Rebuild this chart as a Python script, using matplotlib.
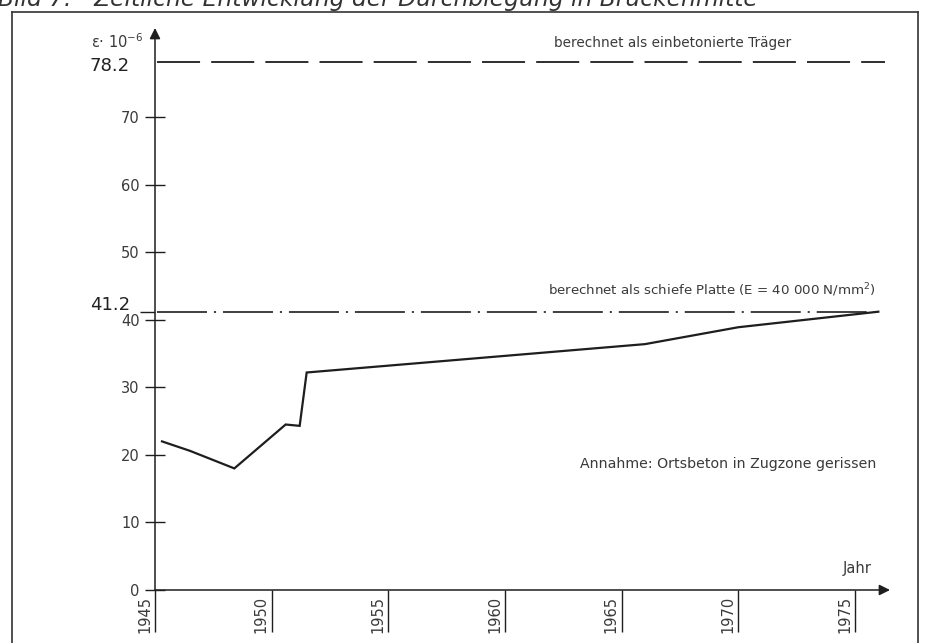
import matplotlib
matplotlib.use("Agg")
import matplotlib.pyplot as plt
from matplotlib.lines import Line2D

plt.rcParams['lines.scale_dashes'] = False
plt.rcParams['font.family'] = ['DejaVu Sans']

# ---- data ----
years = [1945.3, 1946.5, 1948.4, 1950.6, 1951.2, 1951.5, 1966.0, 1970.0, 1976.0]
strain = [22.0, 20.6, 18.0, 24.5, 24.3, 32.2, 36.4, 38.9, 41.2]
ref_girder = 78.2      # berechnet als einbetonierte Träger
ref_plate = 41.2       # berechnet als schiefe Platte
ref_span = [1945.1, 1976.3]
ytick_vals = [0, 10, 20, 30, 40, 50, 60, 70]
xtick_vals = [1945, 1950, 1955, 1960, 1965, 1970, 1975]

ink = '#1e1e1e'
txt = '#3a3a3a'

fig = plt.figure(figsize=(9.27, 6.43), dpi=100)
W, H = 927, 643

# axes placed in pixels: x 155..890, y 28..590
ax = fig.add_axes([155 / W, (H - 590) / H, 735 / W, 562 / H])
ax.set_xlim(1945, 1976.5)
ax.set_ylim(0, 83.2)
for s in ax.spines.values():
    s.set_visible(False)
ax.patch.set_alpha(0)

# axes with arrows
ax.annotate('', xy=(0, 1.0), xytext=(0, 0), xycoords='axes fraction',
            arrowprops=dict(arrowstyle='-|>', color=ink, lw=1.1,
                            mutation_scale=16, shrinkA=0, shrinkB=0))
ax.annotate('', xy=(1.0, 0), xytext=(0, 0), xycoords='axes fraction',
            arrowprops=dict(arrowstyle='-|>', color=ink, lw=1.1,
                            mutation_scale=16, shrinkA=0, shrinkB=0))

# y ticks
ax.set_yticks(ytick_vals)
ax.set_yticklabels([str(v) for v in ytick_vals])
ax.tick_params(axis='y', direction='inout', length=14, width=1.0, color=ink,
               labelsize=10.5, labelcolor=txt, pad=4)
# tick at 41.2
ax.set_yticks([ref_plate], minor=True)
ax.tick_params(axis='y', which='minor', direction='out', length=11, width=1.0, color=ink)

# x ticks: long downward lines with rotated labels left of them
ax.set_xticks(xtick_vals)
ax.set_xticklabels([])
ax.tick_params(axis='x', direction='out', length=30, width=1.0, color=ink)
for yr in xtick_vals:
    ax.annotate(str(yr), xy=(yr, 0), xycoords=('data', 'axes fraction'),
                xytext=(-2, -4), textcoords='offset points', rotation=90,
                ha='right', va='top', fontsize=10.5, color=txt)

# reference lines
ax.plot(ref_span, [ref_girder, ref_girder], color=ink, lw=1.3, dashes=(31, 8))
ax.plot(ref_span[:1] + [1976.0], [ref_plate, ref_plate], color=ink, lw=1.2,
        dashes=(36, 5, 1.5, 5))

# measured curve
ax.plot(years, strain, color=ink, lw=1.6, solid_joinstyle='miter')

# texts
ax.text(1962.1, ref_girder + 1.8, 'berechnet als einbetonierte Träger',
        fontsize=9.8, color=txt, ha='left', va='bottom')
ax.text(1975.9, ref_plate + 1.9, 'berechnet als schiefe Platte (E = 40 000 N/mm$^2$)',
        fontsize=9.6, color=txt, ha='right', va='bottom')
ax.text(1975.9, 18.7, 'Annahme: Ortsbeton in Zugzone gerissen',
        fontsize=10.2, color=txt, ha='right', va='center')
ax.text(1975.7, 2.1, 'Jahr', fontsize=10.5, color=txt, ha='right', va='bottom')

# special labels at left
ax.annotate('78.2', xy=(0, ref_girder), xycoords=('axes fraction', 'data'),
            xytext=(-18, -3), textcoords='offset points', ha='right', va='center',
            fontsize=13, color='#222222')
ax.annotate('41.2', xy=(0, ref_plate), xycoords=('axes fraction', 'data'),
            xytext=(-18, 5), textcoords='offset points', ha='right', va='center',
            fontsize=13, color='#222222')
ax.annotate('ε· 10$^{-6}$', xy=(0, 1.0), xycoords='axes fraction',
            xytext=(-8, -10), textcoords='offset points', ha='right', va='center',
            fontsize=10.5, color=txt)

# frame around the figure (scanned page border)
fig.add_artist(Line2D([12 / W, 12 / W], [0, 1 - 12 / H], color='#333333', lw=1.2,
                      transform=fig.transFigure))
fig.add_artist(Line2D([12 / W, 918 / W], [1 - 12 / H, 1 - 12 / H], color='#333333',
                      lw=1.2, transform=fig.transFigure))
fig.add_artist(Line2D([918 / W, 918 / W], [0, 1 - 12 / H], color='#333333', lw=1.2,
                      transform=fig.transFigure))

# cut-off caption at top
fig.text(-2 / W, 1 - 6 / H, 'Bild 7:   Zeitliche Entwicklung der Durchbiegung in Brückenmitte',
         fontsize=16.8, style='italic', color='#333333', ha='left', va='baseline')

fig.savefig('out.png', dpi=100)
